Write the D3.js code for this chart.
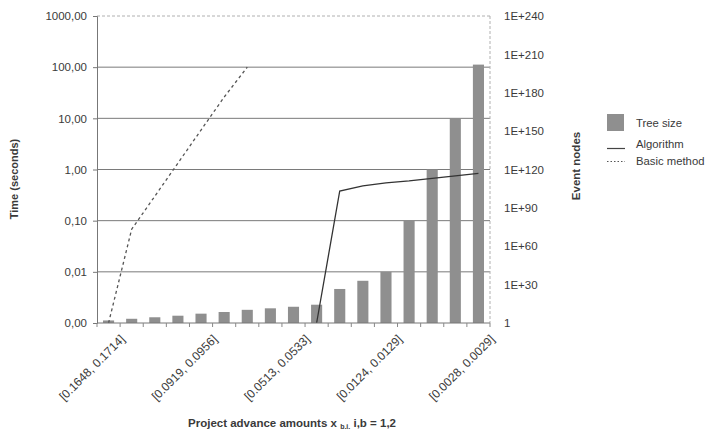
<!DOCTYPE html>
<html><head><meta charset="utf-8">
<script src="https://cdn.jsdelivr.net/npm/d3@7/dist/d3.min.js"></script>
<style>
body{margin:0;background:#fff}
svg{display:block}
text{font-family:"Liberation Sans",Arial,Helvetica,sans-serif}
</style>
</head><body>
<svg id="chart" width="707" height="429"></svg>
<script>
// ---- data ----
const categories = ["[0.1648, 0.1714]", "", "", "", "[0.0919, 0.0956]", "", "", "", "[0.0513, 0.0533]", "", "", "", "[0.0124, 0.0129]", "", "", "", "[0.0028, 0.0029]"];
const treeSize = [1e2, 2e3, 3e4, 5e5, 2e7, 4e8, 2e10, 3e11, 5e12, 2e14, 4e26, 1e33, 1e40, 1e80, 1e120, 1e160, 1e202];
const algorithm = [null, null, null, null, null, null, null, null, null, 0.001, 0.38, 0.48, 0.55, 0.6, 0.67, 0.75, 0.84];
const basicMethod = [0.001, 0.068, 0.3, 1.33, 5.9, 26, 100, null, null, null, null, null, null, null, null, null, null];
const leftTicks = [0.001, 0.01, 0.1, 1, 10, 100, 1000];
const rightTicks = [1, 1e30, 1e60, 1e90, 1e120, 1e150, 1e180, 1e210, 1e240];
const legendItems = ["Tree size", "Algorithm", "Basic method"];

// ---- layout ----
const L = 97, R = 490, T = 16, B = 323;
const svg = d3.select("#chart");
const idx = categories.map((d, i) => i);
const x = d3.scaleBand().domain(idx).range([L, R]).paddingInner(0.52).paddingOuter(0.26);
const xc = i => x(i) + x.bandwidth() / 2;
const yL = d3.scaleLog().domain([0.001, 1000]).range([B, T]);
const yR = d3.scaleLog().domain([1, 1e240]).range([B, T]);
const textCol = "#3a3a3a";

// gridlines
svg.append("g").selectAll("line").data(leftTicks.filter(v => v > 0.001 && v < 1000)).join("line")
  .attr("x1", L).attr("x2", R).attr("y1", d => yL(d)).attr("y2", d => yL(d))
  .attr("stroke", "#7a7a7a").attr("stroke-width", 1);
// top and right dashed border
svg.append("line").attr("x1", L).attr("x2", R).attr("y1", yL(1000)).attr("y2", yL(1000))
  .attr("stroke", "#b0b0b0").attr("stroke-dasharray", "3,2");
svg.append("line").attr("x1", R).attr("x2", R).attr("y1", T).attr("y2", B)
  .attr("stroke", "#b0b0b0").attr("stroke-dasharray", "3,2");

// bars
svg.append("g").selectAll("rect").data(treeSize).join("rect")
  .attr("x", (d, i) => x(i)).attr("width", x.bandwidth())
  .attr("y", d => yR(d)).attr("height", d => yR(1) - yR(d))
  .attr("fill", "#8f8f8f");

// lines
const line = d3.line().defined(d => d.v != null).x(d => xc(d.i)).y(d => yL(d.v));
svg.append("path").datum(basicMethod.map((v, i) => ({i, v})))
  .attr("d", line).attr("fill", "none").attr("stroke", "#555")
  .attr("stroke-width", 1.3).attr("stroke-dasharray", "3,3");
svg.append("path").datum(algorithm.map((v, i) => ({i, v})))
  .attr("d", line).attr("fill", "none").attr("stroke", "#333").attr("stroke-width", 1.3);

// left axis
const axL = svg.append("g").attr("transform", `translate(${L},0)`)
  .call(d3.axisLeft(yL).tickValues(leftTicks).tickSize(4).tickPadding(6)
    .tickFormat(d => d3.format(".2f")(d).replace(".", ",")));
axL.select(".domain").attr("stroke", "#777");
axL.selectAll(".tick line").attr("stroke", "#777");
axL.selectAll("text").attr("font-size", 11.5).attr("fill", textCol).attr("font-family", '"Liberation Sans",Arial,sans-serif');

// right axis
const axR = svg.append("g").attr("transform", `translate(${R},0)`)
  .call(d3.axisRight(yR).tickValues(rightTicks).tickSize(0).tickPadding(14)
    .tickFormat(d => d === 1 ? "1" : "1E+" + Math.round(Math.log10(d))));
axR.select(".domain").remove();
axR.selectAll("text").attr("font-size", 11.5).attr("fill", textCol).attr("font-family", '"Liberation Sans",Arial,sans-serif');

// bottom axis
const axB = svg.append("g").attr("transform", `translate(0,${B})`);
axB.append("line").attr("x1", L).attr("x2", R).attr("stroke", "#777");
const bx = d => d === idx.length ? R : x(d) - x.step() * x.paddingInner() / 2;
axB.selectAll("line.tk").data(idx.concat([idx.length])).join("line").attr("class", "tk")
  .attr("x1", bx).attr("x2", bx)
  .attr("y1", 0).attr("y2", 4).attr("stroke", "#888");
axB.selectAll("text").data(idx.filter(i => categories[i] !== "")).join("text")
  .attr("transform", i => `translate(${xc(i) + 17},17) rotate(-45)`)
  .attr("text-anchor", "end").attr("font-size", 12).attr("fill", textCol)
  .text(i => categories[i]);

// axis titles
svg.append("text").attr("transform", `translate(18,179) rotate(-90)`)
  .attr("text-anchor", "middle").attr("font-size", 11).attr("font-weight", "bold").attr("fill", textCol)
  .text("Time (seconds)");
svg.append("text").attr("transform", `translate(580,166) rotate(-90)`)
  .attr("text-anchor", "middle").attr("font-size", 11.5).attr("font-weight", "bold").attr("fill", textCol)
  .text("Event nodes");
const xt = svg.append("text").attr("x", 292).attr("y", 427).attr("text-anchor", "middle")
  .attr("font-size", 11.5).attr("font-weight", "bold").attr("fill", textCol);
xt.append("tspan").text("Project advance amounts x ");
xt.append("tspan").attr("font-size", 7).attr("dy", 2).text("b,i,");
xt.append("tspan").attr("dy", -2).text(" i,b = 1,2");

// legend
const lg = svg.append("g").attr("transform", "translate(607,0)");
lg.append("rect").attr("x", 0).attr("y", 114).attr("width", 17).attr("height", 17).attr("fill", "#8f8f8f");
lg.append("line").attr("x1", 0).attr("x2", 18).attr("y1", 148.5).attr("y2", 148.5).attr("stroke", "#444").attr("stroke-width", 1.2);
lg.append("line").attr("x1", 0).attr("x2", 18).attr("y1", 161.5).attr("y2", 161.5).attr("stroke", "#555").attr("stroke-width", 1.2).attr("stroke-dasharray", "1.5,2");
lg.selectAll("text").data(legendItems).join("text")
  .attr("x", 29).attr("y", (d, i) => [127, 148, 165][i])
  .attr("font-size", 11.3).attr("fill", textCol).text(d => d);
</script>
</body></html>
